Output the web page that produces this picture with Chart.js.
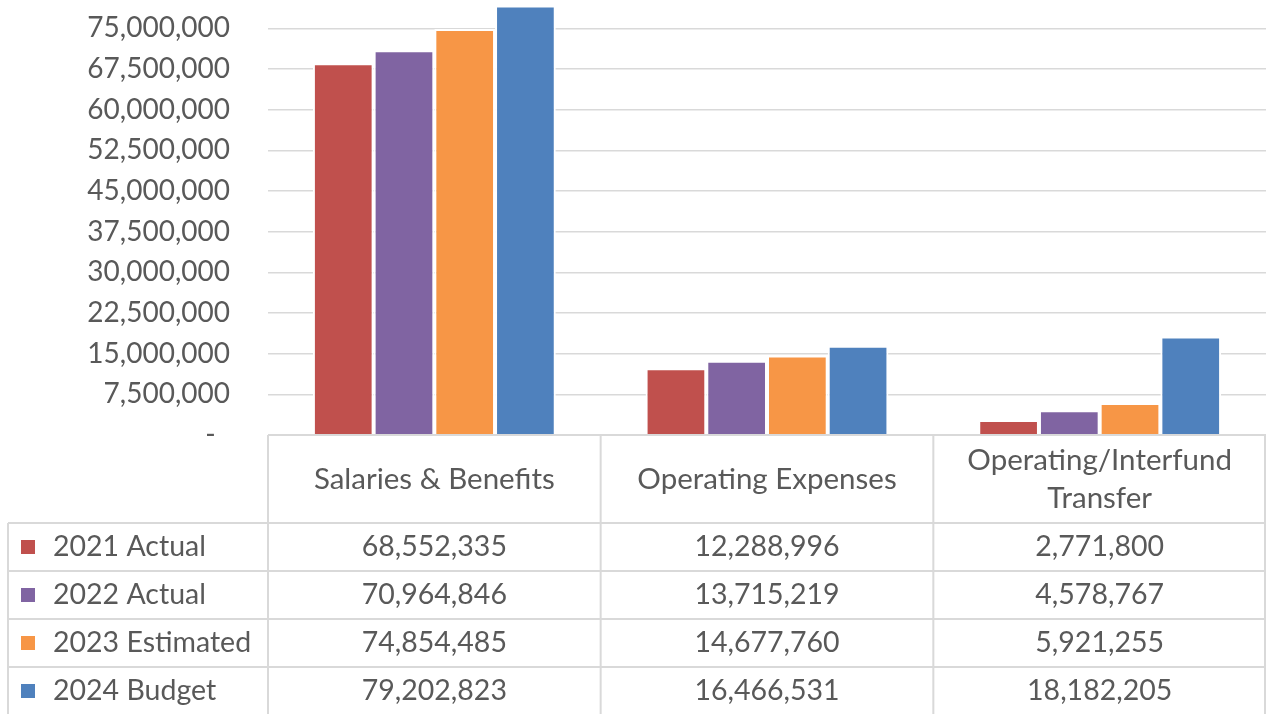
<!DOCTYPE html>
<html><head><meta charset="utf-8">
<script src="https://cdn.jsdelivr.net/npm/chart.js@4.4.1/dist/chart.umd.min.js"></script>
<style>html,body{margin:0;padding:0;background:#fff;}canvas{display:block}</style>
</head><body>
<canvas id="c" width="1266" height="714"></canvas>
<script>
const categories = [['Salaries & Benefits'], ['Operating Expenses'], ['Operating/Interfund', 'Transfer']];
const seriesNames = ['2021 Actual', '2022 Actual', '2023 Estimated', '2024 Budget'];
const actual2021 = [68552335, 12288996, 2771800];
const actual2022 = [70964846, 13715219, 4578767];
const estimated2023 = [74854485, 14677760, 5921255];
const budget2024 = [79202823, 16466531, 18182205];
const yTicks = [0, 7500000, 15000000, 22500000, 30000000, 37500000, 45000000, 52500000, 60000000, 67500000, 75000000];
const yMax = 79300000;
const colors = ['#C0504D', '#8064A2', '#F79646', '#4F81BD'];

const seriesValues = [actual2021, actual2022, estimated2023, budget2024];
const FONT = 'Lato, "Open Sans", sans-serif';
const TICK_SIZE = 28;
const ROW_SIZE = 28.5;
const HEAD_SIZE = 29.5;
const TEXT = '#595959';
const LINE = '#d9d9d9';
const fmt = v => v.toLocaleString('en-US');

const tablePlugin = {
  id: 'dataTable',
  afterDraw(chart) {
    const ctx = chart.ctx, xs = chart.scales.x, area = chart.chartArea;
    const n = chart.data.labels.length;
    const colW = (area.right - area.left) / n;
    const top = area.bottom, headerH = 88, rowH = 48, leftX = 8, bottom = 716;
    ctx.save();
    ctx.strokeStyle = LINE; ctx.lineWidth = 2;
    const hline = (x1, x2, y) => { ctx.beginPath(); ctx.moveTo(x1, y); ctx.lineTo(x2, y); ctx.stroke(); };
    const vline = (x, y1, y2) => { ctx.beginPath(); ctx.moveTo(x, y1); ctx.lineTo(x, y2); ctx.stroke(); };
    const right = area.right - 1;
    hline(area.left, right + 1, top);
    for (let r = 0; r <= seriesNames.length; r++) hline(leftX, right + 1, top + headerH + r * rowH);
    for (let i = 0; i <= n; i++) vline(i === n ? right : area.left + i * colW, top, bottom);
    vline(leftX, top + headerH, bottom);
    ctx.fillStyle = TEXT; ctx.textBaseline = 'middle'; ctx.textAlign = 'center';
    ctx.font = HEAD_SIZE + 'px ' + FONT;
    chart.data.labels.forEach((lab, i) => {
      const cx = xs.getPixelForValue(i);
      const lines = Array.isArray(lab) ? lab : [lab];
      const lh = 38;
      const cy = top + headerH / 2;
      lines.forEach((t, k) => ctx.fillText(t, cx, cy + (k - (lines.length - 1) / 2) * lh));
    });
    ctx.font = ROW_SIZE + 'px ' + FONT;
    chart.data.datasets.forEach((ds, r) => {
      const cy = top + headerH + r * rowH + rowH / 2;
      ctx.fillStyle = ds.backgroundColor;
      ctx.fillRect(21, cy - 7, 14, 14);
      ctx.fillStyle = TEXT; ctx.textAlign = 'left';
      ctx.fillText(ds.label, 53, cy);
      ctx.textAlign = 'center';
      ds.data.forEach((v, i) => ctx.fillText(fmt(v), xs.getPixelForValue(i), cy));
    });
    ctx.restore();
  }
};

document.fonts.load(TICK_SIZE + 'px Lato').then(() => {
  new Chart(document.getElementById('c'), {
    type: 'bar',
    data: {
      labels: categories,
      datasets: seriesNames.map((name, i) => ({
        label: name, data: seriesValues[i], backgroundColor: colors[i],
        borderColor: '#ffffff', borderWidth: 2,
        categoryPercentage: 0.73, barPercentage: 1
      }))
    },
    options: {
      responsive: false, animation: false, devicePixelRatio: 1,
      layout: { padding: { top: 5, bottom: 279, left: 0, right: 0 } },
      plugins: { legend: { display: false }, tooltip: { enabled: false } },
      scales: {
        x: { display: false },
        y: {
          min: 0, max: yMax,
          afterFit: s => { s.width = 268; s.paddingTop = 0; s.paddingBottom = 0; },
          afterBuildTicks: s => { s.ticks = yTicks.map(v => ({ value: v })); },
          border: { display: false },
          grid: { color: LINE, lineWidth: 1.5, drawTicks: false },
          ticks: {
            padding: 38, color: TEXT, font: { family: FONT, size: TICK_SIZE },
            callback: v => v === 0 ? '-  ' : fmt(v)
          }
        }
      }
    },
    plugins: [tablePlugin]
  });
});
</script>
</body></html>
